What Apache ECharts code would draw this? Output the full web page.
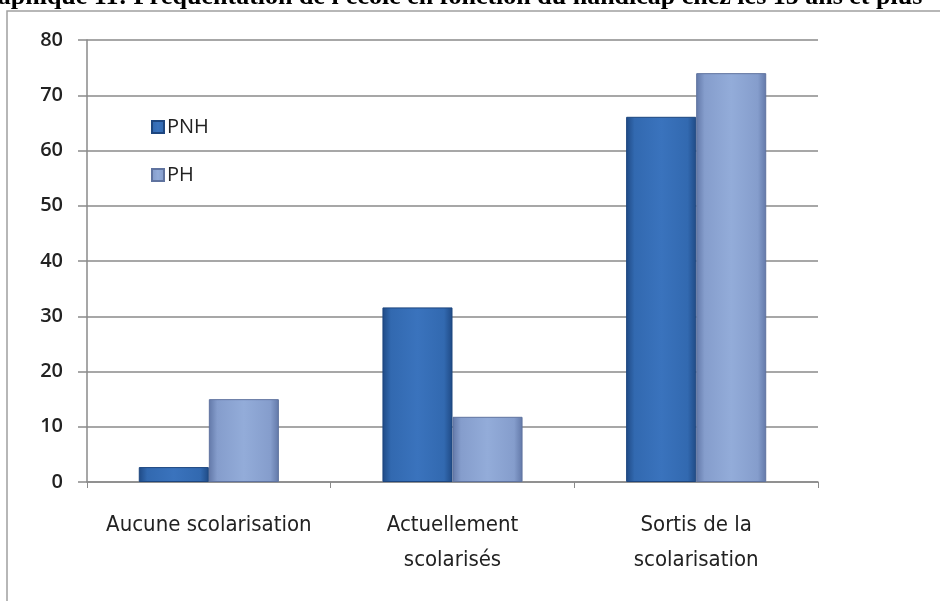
<!DOCTYPE html>
<html>
<head>
<meta charset="utf-8">
<script src="https://cdn.jsdelivr.net/npm/echarts@6/dist/echarts.min.js"></script>
<style>
  html, body { margin: 0; padding: 0; background: #fff; }
  #main { width: 940px; height: 601px; }
</style>
</head>
<body>
<div id="main"></div>
<script>
const categories = ["Aucune scolarisation", "Actuellement\nscolarisés", "Sortis de la\nscolarisation"];
const pnhValues = [2.7, 31.6, 66.1];
const phValues = [15, 11.8, 74];
const titleText = "Graphique 11: Fréquentation de l'école en fonction du handicap chez les 15 ans et plus";

const chart = echarts.init(document.getElementById("main"));

const barGradient = (light, mid, dark) => ({
  type: "linear",
  x: 0, y: 0, x2: 1, y2: 0,
  colorStops: [
    { offset: 0, color: dark },
    { offset: 0.12, color: mid },
    { offset: 0.5, color: light },
    { offset: 0.88, color: mid },
    { offset: 1, color: dark },
  ],
});

const option = {
  animation: false,
  graphic: [
    {
      type: "rect",
      shape: { x: 7, y: 11, width: 940, height: 600 },
      style: { fill: "#fff", stroke: "#a0a0a0", lineWidth: 1.5 },
      z: -10,
    },
    {
      type: "text",
      left: -34,
      top: -16,
      style: {
        text: titleText,
        font: "bold 26px 'Liberation Serif', serif",
        fill: "#000",
      },
    },
  ],
  legend: {
    orient: "vertical",
    left: 146,
    top: 112,
    itemGap: 28,
    itemWidth: 12,
    itemHeight: 12,
    icon: "rect",
    textStyle: {
      fontFamily: "'Open Sans', sans-serif",
      fontSize: 20,
      color: "#222",
      padding: [0, 0, 0, -2],
    },
    data: ["PNH", "PH"],
  },
  grid: {
    left: 87,
    right: 122,
    top: 40,
    bottom: 119,
    containLabel: false,
  },
  xAxis: {
    type: "category",
    data: categories,
    axisLine: { lineStyle: { color: "#8a8a8a", width: 1.5 } },
    axisTick: { show: true, alignWithLabel: false, length: 6, lineStyle: { color: "#8a8a8a" } },
    axisLabel: {
      margin: 26,
      color: "#222",
      fontFamily: "'Liberation Sans Narrow', 'DejaVu Sans Condensed', sans-serif",
      fontSize: 22,
      lineHeight: 35,
      interval: 0,
    },
  },
  yAxis: {
    type: "value",
    min: 0,
    max: 80,
    interval: 10,
    axisLine: { show: true, lineStyle: { color: "#8a8a8a", width: 1.5 } },
    axisTick: { show: true, length: 9, lineStyle: { color: "#8a8a8a", width: 1.5 } },
    axisLabel: {
      margin: 24,
      color: "#222",
      fontFamily: "'Open Sans', sans-serif",
      fontWeight: 600,
      fontSize: 20,
    },
    splitLine: { lineStyle: { color: "#8a8a8a", width: 1.5 } },
  },
  series: [
    {
      name: "PNH",
      type: "bar",
      data: pnhValues,
      barGap: "0%",
      barCategoryGap: "42.5%",
      itemStyle: {
        color: barGradient("#3a73bd", "#3269b0", "#1f4a85"),
        borderColor: "#1d467f",
        borderWidth: 1,
      },
    },
    {
      name: "PH",
      type: "bar",
      data: phValues,
      itemStyle: {
        color: barGradient("#93acd9", "#859dcc", "#6278a8"),
        borderColor: "#5f739f",
        borderWidth: 1,
      },
    },
  ],
  color: ["#2f64aa", "#8aa2d2"],
};

chart.setOption(option);
</script>
</body>
</html>
